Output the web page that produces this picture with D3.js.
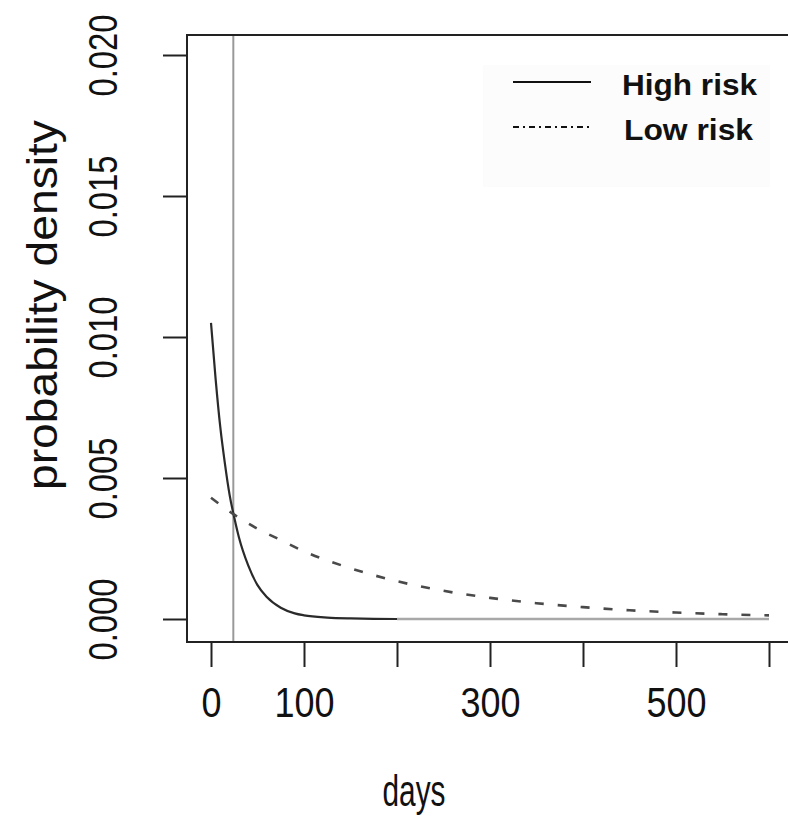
<!DOCTYPE html>
<html>
<head>
<meta charset="utf-8">
<script src="https://cdn.jsdelivr.net/npm/d3@7"></script>
<style>
  body { margin: 0; background: #fff; }
  text { font-family: "Liberation Sans", Arial, sans-serif; fill: #111; }
</style>
</head>
<body>
<div id="graph"></div>
<script>
// densidades (días -> densidad)
const highDays = [0, 5, 10, 15, 20, 25, 30, 40, 50, 60, 75, 90, 100, 125, 150, 200, 300, 400, 500, 600];
const highVals = [0.0105, 0.0085, 0.0068, 0.0055, 0.0044, 0.0036, 0.0029, 0.0019, 0.0012, 0.00078, 0.0004, 0.0002, 0.00013, 0.00005, 0.00002, 0, 0, 0, 0, 0];
const lowDays = [0, 25, 50, 75, 100, 150, 200, 250, 300, 350, 400, 450, 500, 550, 600];
const lowVals = [0.0043, 0.0037, 0.0032, 0.0028, 0.0024, 0.0018, 0.00134, 0.001, 0.00075, 0.00056, 0.00042, 0.00031, 0.00023, 0.00017, 0.00013];

const xTicks = [0, 100, 200, 300, 400, 500, 600];
const xTickLabels = ["0", "100", "", "300", "", "500", ""];
const yTicks = [0, 0.005, 0.010, 0.015, 0.020];
const yTickLabels = ["0.000", "0.005", "0.010", "0.015", "0.020"];
const cutDay = 24;
const legendLabels = ["High risk", "Low risk"];

const width = 788;
const height = 821;
const box = { left: 187, top: 35, right: 791, bottom: 642 };
const TEXT_GREY = "#2e2e2e";

const svg = d3.select("#graph").append("svg")
    .attr("width", width).attr("height", height)
    .style("background-color", "#FFFFFF");

const x = d3.scaleLinear().domain([0, 600]).range([211, 769]);
const y = d3.scaleLinear().domain([0, 0.020]).range([619, 55]);

// leyenda (fondo muy tenue)
const leg = svg.append("g");
leg.append("rect")
    .attr("x", 483).attr("y", 65).attr("width", 287).attr("height", 122)
    .attr("fill", "#fcfcfc");

// línea vertical gris
svg.append("line")
    .attr("x1", x(cutDay)).attr("x2", x(cutDay))
    .attr("y1", box.top).attr("y2", box.bottom)
    .attr("stroke", "#9a9a9a").attr("stroke-width", 2);

// curvas
const toPts = (days, vals) => days.map((d, i) => ({ d, v: vals[i] }));
const line = d3.line().x(p => x(p.d)).y(p => y(p.v)).curve(d3.curveMonotoneX);

const high = toPts(highDays, highVals);
svg.append("path").datum(high)
    .attr("fill", "none").attr("stroke", "#2a2a2a").attr("stroke-width", 2.2)
    .attr("d", line);
// tramo gris sobre el cero
svg.append("path").datum(high.filter(p => p.d >= 200))
    .attr("fill", "none").attr("stroke", "#a8a8a8").attr("stroke-width", 2.6)
    .attr("d", line);

svg.append("path").datum(toPts(lowDays, lowVals))
    .attr("fill", "none").attr("stroke", "#4a4a4a").attr("stroke-width", 2.6)
    .attr("stroke-dasharray", "9,14")
    .attr("d", line);

// caja
svg.append("rect")
    .attr("x", box.left).attr("y", box.top)
    .attr("width", box.right - box.left).attr("height", box.bottom - box.top)
    .attr("fill", "none").attr("stroke", "#222").attr("stroke-width", 2);

// eje x
const gx = svg.append("g").attr("transform", `translate(0,${box.bottom})`)
    .call(d3.axisBottom(x).tickValues(xTicks).tickSize(25).tickFormat((d, i) => xTickLabels[i]));
gx.select(".domain").remove();
gx.selectAll(".tick line").attr("stroke", "#222").attr("stroke-width", 2);
gx.selectAll(".tick text")
    .attr("y", 75).attr("dy", null)
    .attr("font-size", 42).attr("fill", TEXT_GREY)
    .attr("textLength", function () { return this.textContent.length * 20; })
    .attr("lengthAdjust", "spacingAndGlyphs");

// eje y
const gy = svg.append("g").attr("transform", `translate(${box.left},0)`)
    .call(d3.axisLeft(y).tickValues(yTicks).tickSize(24).tickFormat((d, i) => yTickLabels[i]));
gy.select(".domain").remove();
gy.selectAll(".tick line").attr("stroke", "#222").attr("stroke-width", 2);
gy.selectAll(".tick text")
    .attr("x", null).attr("dy", null)
    .attr("transform", "translate(-70,0) rotate(-90)")
    .attr("text-anchor", "middle")
    .attr("font-size", 40).attr("fill", TEXT_GREY)
    .attr("textLength", 82).attr("lengthAdjust", "spacingAndGlyphs");

// títulos de ejes
svg.append("text")
    .attr("x", 414).attr("y", 806)
    .attr("text-anchor", "middle").attr("font-size", 44).attr("fill", TEXT_GREY)
    .attr("textLength", 63).attr("lengthAdjust", "spacingAndGlyphs")
    .text("days");
svg.append("text")
    .attr("transform", "translate(57,305) rotate(-90)")
    .attr("text-anchor", "middle").attr("font-size", 43).attr("fill", TEXT_GREY)
    .attr("textLength", 370).attr("lengthAdjust", "spacingAndGlyphs")
    .text("probability density");

// leyenda: muestras y textos
leg.append("line")
    .attr("x1", 513).attr("x2", 591).attr("y1", 82).attr("y2", 82)
    .attr("stroke", "#111").attr("stroke-width", 2);
leg.append("line")
    .attr("x1", 513).attr("x2", 591).attr("y1", 127).attr("y2", 127)
    .attr("stroke", "#111").attr("stroke-width", 2)
    .attr("stroke-dasharray", "6,4,2,4");
leg.selectAll("text.lab").data(legendLabels).join("text")
    .attr("class", "lab")
    .attr("x", (d, i) => i === 0 ? 622 : 624)
    .attr("y", (d, i) => 95 + i * 45)
    .attr("font-size", 30).attr("font-weight", "bold").attr("fill", "#000")
    .attr("textLength", (d, i) => i === 0 ? 135 : 129)
    .attr("lengthAdjust", "spacingAndGlyphs")
    .text(d => d);
</script>
</body>
</html>
